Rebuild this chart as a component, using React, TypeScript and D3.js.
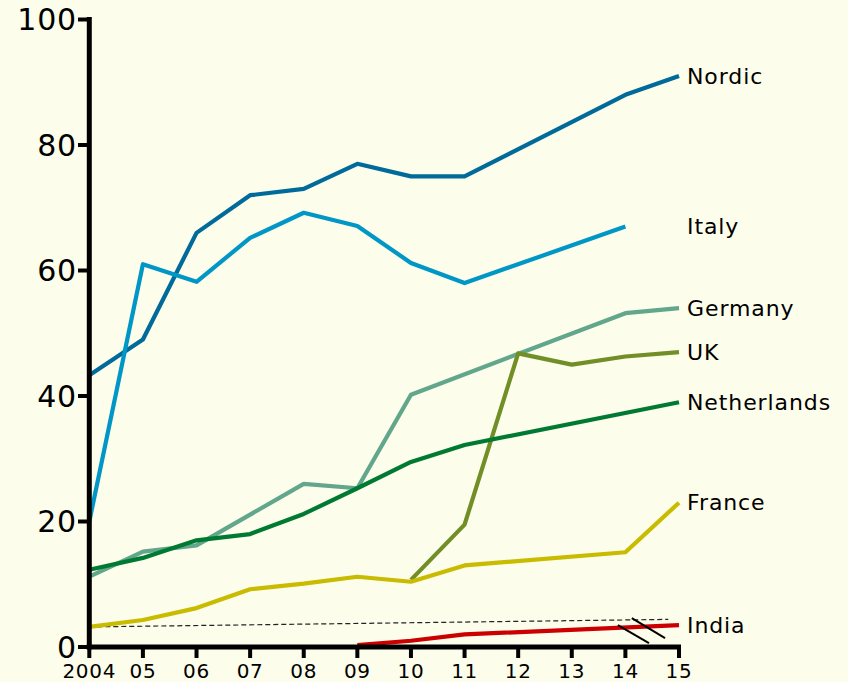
import React from 'react';
import { scaleLinear, line } from 'd3';

const width = 848;
const height = 682;

const years = [2004, 2005, 2006, 2007, 2008, 2009, 2010, 2011, 2012, 2013, 2014, 2015];
const yearLabels = ['2004', '05', '06', '07', '08', '09', '10', '11', '12', '13', '14', '15'];
const yTicks = [0, 20, 40, 60, 80, 100];

// null = no reading for that year
const nordic = [43.3, 49, 66, 72, 73, 77, 75, 75, null, null, 88, 91];
const italy = [20, 61, 58.2, 65.2, 69.2, 67.1, 61.2, 58, null, null, 67, null];
const germany = [11.2, 15.2, 16.2, null, 26, 25.3, 40.2, null, null, null, 53.2, 54];
const uk = [null, null, null, null, null, null, 10.7, 19.5, 46.8, 45, 46.3, 47];
const netherlands = [12.3, 14.2, 17, 18, 21.2, 25.3, 29.5, 32.2, null, null, null, 39];
const france = [3.2, 4.3, 6.2, 9.2, 10.1, 11.2, 10.4, 13, null, null, 15.1, 23];
const india = [null, null, null, null, null, 0.3, 1, 2, null, null, null, 3.5];

const seriesNames = ['Nordic', 'Italy', 'Germany', 'UK', 'Netherlands', 'France', 'India'];
const seriesValues = [nordic, italy, germany, uk, netherlands, france, india];
const seriesColors = ['#006a9a', '#0096c6', '#62a68c', '#718f26', '#007a33', '#c8bb00', '#cc0000'];
const labelValues = [91, 67, 54, 47, 39, 23, 3.4];

// dashed trend line and the two break strokes near the end
const trend: [number, number][] = [[2004, 3.2], [2014.8, 4.4]];
const breaks: [number, number][][] = [
  [[2013.86, 3.5], [2014.44, 0.6]],
  [[2014.12, 4.6], [2014.74, 1.4]],
];

const x = scaleLinear().domain([2004, 2015]).range([89.3, 679]);
const y = scaleLinear().domain([0, 100]).range([647, 19.5]);

const font = '"DejaVu Sans", Verdana, sans-serif';

function App() {
  const path = line<[number, number]>()
    .x(d => x(d[0]))
    .y(d => y(d[1]));

  return (
    <svg width={width} height={height} style={{ position: 'absolute', left: 0, top: 0, display: 'block' }}>
      <rect width={width} height={height} fill="#fdfdeb" />

      <path d={path(trend)!} fill="none" stroke="#222" strokeWidth={1.2} strokeDasharray="5 3" />

      {seriesValues.map((vals, i) => {
        const pts = years
          .map((yr, j) => [yr, vals[j]] as [number, number | null])
          .filter(p => p[1] !== null) as [number, number][];
        return (
          <path key={seriesNames[i]} d={path(pts)!} fill="none" stroke={seriesColors[i]}
            strokeWidth={4.2} strokeLinejoin="round" />
        );
      })}

      {breaks.map((b, i) => (
        <path key={i} d={path(b)!} stroke="#000" strokeWidth={2} fill="none" />
      ))}

      {seriesNames.map((n, i) => (
        <text key={n} x={687} y={y(labelValues[i])} dy="0.35em" fontFamily={font} fontSize={22}
          letterSpacing={0.9} fill="#000">
          {n}
        </text>
      ))}

      {/* y axis */}
      <line x1={89.3} x2={89.3} y1={y(100) - 2.5} y2={y(0) + 2.5} stroke="#000" strokeWidth={5} />
      {yTicks.map(t => (
        <g key={t}>
          <line x1={78} x2={89} y1={y(t)} y2={y(t)} stroke="#000" strokeWidth={4} />
          <text x={77} y={y(t)} dy="0.36em" textAnchor="end" fontFamily={font} fontSize={30}
            letterSpacing={0.8} fill="#000">{t}</text>
        </g>
      ))}

      {/* x axis */}
      <line x1={x(2004) - 2.5} x2={x(2015) + 2} y1={y(0)} y2={y(0)} stroke="#000" strokeWidth={5} />
      {years.map((yr, i) => (
        <g key={yr}>
          <line x1={x(yr)} x2={x(yr)} y1={y(0)} y2={y(0) + 11} stroke="#000" strokeWidth={4} />
          <text x={x(yr)} y={678} textAnchor="middle" fontFamily={font} fontSize={20}
            letterSpacing={0.7} fill="#000">{yearLabels[i]}</text>
        </g>
      ))}
    </svg>
  );
}

export default App;
